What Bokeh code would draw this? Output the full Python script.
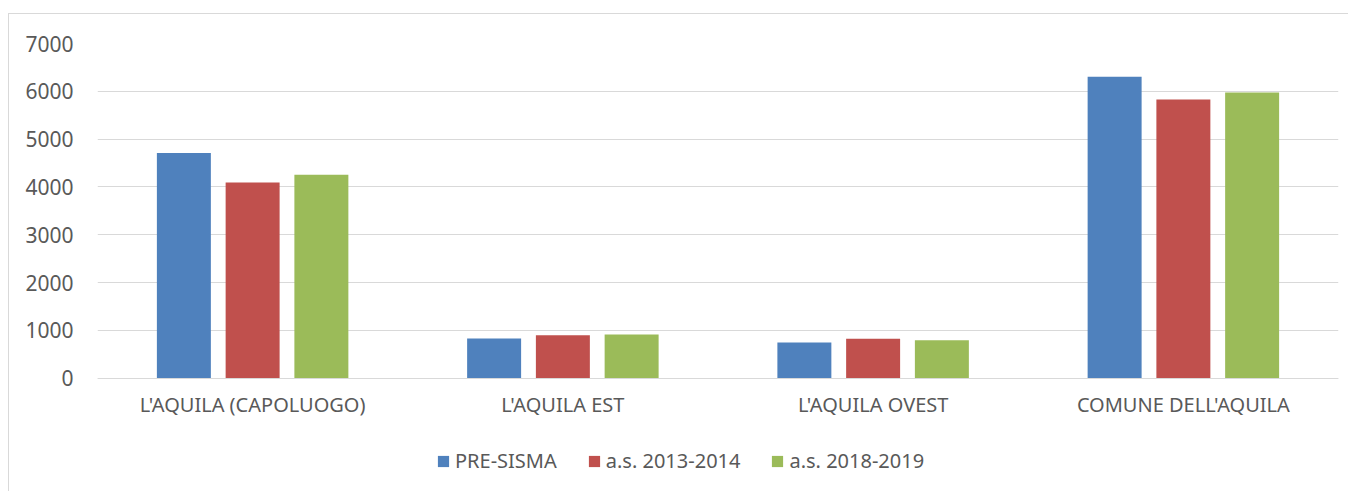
from bokeh.plotting import figure
from bokeh.models import ColumnDataSource, FactorRange, Range1d, Legend, LegendItem
from bokeh.transform import dodge
from bokeh.embed import file_html
from bokeh.resources import INLINE

categories = ["L'AQUILA (CAPOLUOGO)", "L'AQUILA EST", "L'AQUILA OVEST", "COMUNE DELL'AQUILA"]
series_names = ["PRE-SISMA", "a.s. 2013-2014", "a.s. 2018-2019"]
pre_sisma = [4710, 830, 750, 6305]
as_2013_2014 = [4095, 900, 825, 5830]
as_2018_2019 = [4255, 915, 795, 5975]
y_ticks = [0, 1000, 2000, 3000, 4000, 5000, 6000, 7000]

colors = ["#4F81BD", "#C0504D", "#9BBB59"]
text_color = "#595959"
grid_color = "#d9d9d9"
font = "Noto Sans"

# layout: frame spans 444 px; value axis 0..7000 occupies top 334 px,
# the rest below 0 holds category labels and legend
frame_px = 444
value_px = 334
y_bottom = -(frame_px - value_px) * 7000 / value_px

source = ColumnDataSource(data=dict(cat=categories, s0=pre_sisma, s1=as_2013_2014, s2=as_2018_2019))

p = figure(x_range=FactorRange(*categories, range_padding=0), y_range=Range1d(y_bottom, 7000),
           width=1340, height=478, output_backend="svg", toolbar_location=None,
           min_border_left=88, min_border_right=11, min_border_top=29, min_border_bottom=4)
p.margin = (13, 0, 0, 8)
p.styles = {"border-left": "1px solid #d9d9d9", "border-top": "1px solid #d9d9d9"}
p.outline_line_color = None

step = 0.2216
bw = 0.174
renderers = []
for i, key in enumerate(["s0", "s1", "s2"]):
    r = p.vbar(x=dodge("cat", (i - 1) * step, range=p.x_range), top=key, width=bw,
               source=source, fill_color=colors[i], line_color=None)
    renderers.append(r)

p.xgrid.grid_line_color = None
p.ygrid.grid_line_color = grid_color
p.ygrid.grid_line_width = 1
p.yaxis.ticker = y_ticks
p.yaxis.axis_line_color = None
p.yaxis.major_tick_line_color = None
p.yaxis.major_tick_out = 0
p.yaxis.minor_tick_line_color = None
p.yaxis.major_label_standoff = 24
p.yaxis.major_label_text_font = font
p.yaxis.major_label_text_font_size = "21px"
p.yaxis.major_label_text_color = text_color

p.xaxis.fixed_location = 0
p.xaxis.axis_line_color = grid_color
p.xaxis.major_tick_line_color = None
p.xaxis.major_tick_out = 0
p.xaxis.minor_tick_line_color = None
p.xaxis.major_label_standoff = 13
p.xaxis.major_label_text_font = font
p.xaxis.major_label_text_font_size = "20px"
p.xaxis.major_label_text_color = text_color

legend = Legend(items=[LegendItem(label=series_names[i], renderers=[renderers[i]]) for i in range(3)],
                orientation="horizontal", location=(339, 14),
                border_line_color=None, background_fill_alpha=0,
                padding=0, margin=0, spacing=30, label_standoff=5,
                glyph_width=14, glyph_height=14,
                label_text_font=font, label_text_font_size="20px", label_text_color=text_color)
p.add_layout(legend, "center")

open("out.html", "w").write(file_html(p, INLINE))
